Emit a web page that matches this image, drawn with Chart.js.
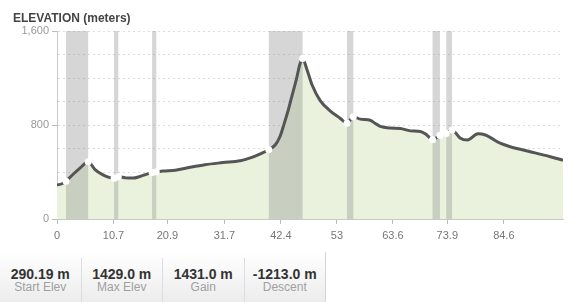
<!DOCTYPE html>
<html>
<head>
<meta charset="utf-8">
<script src="https://cdn.jsdelivr.net/npm/chart.js@4/dist/chart.umd.min.js"></script>
<style>
  body { margin: 0; background: #fff; font-family: "Liberation Sans", Arial, sans-serif; }
  #wrap { position: relative; width: 573px; height: 302px; overflow: hidden; }
  #title { position: absolute; left: 13px; top: 11px; font-size: 12px; font-weight: bold; color: #444; }
  #box { position: absolute; left: 0; top: 0; width: 573px; height: 250px; }
  #stats { position: absolute; left: 0; top: 252px; width: 325px; height: 50px;
    background: linear-gradient(#fff, #ececec); border-right: 1px solid #d4d4d4; display: flex; }
  .cell { width: 81px; text-align: center; border-right: 1px solid #ddd; margin-top: 6px; }
  .cell:last-child { border-right: none; }
  .val { font-size: 14px; font-weight: bold; color: #333; margin-top: 8px; }
  .lbl { font-size: 12px; color: #a0a0a0; margin-top: -2px; }
</style>
</head>
<body>
<div id="wrap">
  <div id="box"><canvas id="elev_chart"></canvas></div>
  <div id="title">ELEVATION (meters)</div>
  <div id="stats"></div>
</div>
<script>
// distance along route (km) and elevation (m)
const distance = [0, 0.95, 1.7, 2.8, 4.4, 5.9, 7.2, 8.7, 10.0, 10.8, 11.6, 13.0, 14.4, 15.7, 17.0, 18.0, 18.8,
  20.1, 22.4, 25.2, 28.0, 31.4, 34.7, 36.6, 38.5, 40.1, 41.3, 42.2, 43.0, 43.8, 44.5, 45.3, 46.0, 46.5,
  47.3, 48.3, 49.8, 51.7, 53.6, 54.9, 56.1, 57.4, 59.3, 60.2, 61.2, 63.1, 65.0, 66.9, 68.8, 69.9, 71.1,
  72.5, 73.7, 74.8, 76.3, 77.7, 79.7, 81.1, 83.9, 85.8, 89.6, 93.4, 95.8];
const elevation = [290, 300, 322, 370, 435, 488, 420, 375, 352, 345, 360, 350, 348, 362, 382, 395, 400,
  408, 415, 440, 462, 480, 496, 520, 555, 590, 630, 700, 810, 930, 1050, 1185, 1320, 1365,
  1275, 1140, 1010, 920, 858, 815, 870, 850, 840, 815, 788, 774, 770, 750, 745, 720, 675,
  712, 728, 757, 690, 672, 725, 715, 645, 615, 573, 530, 500];

// shaded sections [start km, end km]
const bandStart = [1.7, 10.8, 18.0, 40.1, 54.9, 71.1, 73.7];
const bandEnd = [5.9, 11.6, 18.8, 46.5, 56.1, 72.5, 74.8];

const xTicks = [0, 10.7, 20.9, 31.7, 42.4, 53, 63.6, 73.9, 84.6];
const yMax = 1600;

const statValues = ["290.19 m", "1429.0 m", "1431.0 m", "-1213.0 m"];
const statLabels = ["Start Elev", "Max Elev", "Gain", "Descent"];

document.getElementById("stats").innerHTML = statValues.map((v, i) =>
  '<div class="cell"><div class="val">' + v + '</div><div class="lbl">' + statLabels[i] + '</div></div>'
).join("");

const points = distance.map((d, i) => ({ x: d, y: elevation[i] }));
const edges = bandStart.concat(bandEnd);

const bands = {
  id: "bands",
  afterDatasetDraw(chart, args) {
    if (args.index !== 1) return;
    const { ctx, chartArea, scales } = chart;
    ctx.save();
    ctx.fillStyle = "rgba(140,140,140,0.36)";
    bandStart.forEach((s, i) => {
      const x1 = scales.x.getPixelForValue(s);
      const x2 = scales.x.getPixelForValue(bandEnd[i]);
      ctx.fillRect(x1, chartArea.top, x2 - x1, chartArea.bottom - chartArea.top);
    });
    ctx.restore();
  }
};

const ctx = document.getElementById("elev_chart").getContext("2d");
const chart = new Chart(ctx, {
  type: "line",
  data: {
    datasets: [
      {
        data: points,
        borderColor: "#555",
        borderWidth: 3,
        fill: false,
        cubicInterpolationMode: "monotone",
        pointRadius: (c) => edges.includes(distance[c.dataIndex]) ? 3.5 : 0,
        pointBackgroundColor: "#fff",
        pointBorderWidth: 0,
        order: 0
      },
      {
        data: points,
        borderWidth: 0,
        borderColor: "transparent",
        backgroundColor: "#eaf2dd",
        fill: "origin",
        cubicInterpolationMode: "monotone",
        pointRadius: 0,
        order: 1
      }
    ]
  },
  options: {
    responsive: true,
    maintainAspectRatio: false,
    animation: false,
    layout: { padding: { top: 31, right: 10, left: 0, bottom: 0 } },
    plugins: { legend: { display: false }, tooltip: { enabled: false } },
    scales: {
      x: {
        type: "linear",
        min: 0,
        max: 95.8,
        afterBuildTicks: (scale) => { scale.ticks = xTicks.map((v) => ({ value: v })); },
        afterFit: (scale) => { scale.height = 31; },
        ticks: {
          color: "#777",
          font: { size: 11, family: "Liberation Sans" },
          padding: 5,
          maxRotation: 0,
          autoSkip: false,
          callback: (value) => String(value)
        },
        grid: { drawOnChartArea: false, tickLength: 5, tickColor: "#bbb" },
        border: { color: "#c8c8c8" }
      },
      y: {
        min: 0,
        max: yMax,
        afterFit: (scale) => { scale.width = 57; },
        ticks: {
          stepSize: 200,
          color: "#999",
          font: { size: 11, family: "Liberation Sans" },
          padding: 3,
          callback: (value) => value % 800 === 0 ? value.toLocaleString("en-US") : ""
        },
        grid: {
          color: (c) => c.tick && c.tick.value === 0 ? "transparent" : "#dcdcdc",
          tickLength: 5,
          tickColor: (c) => c.tick && c.tick.value % 800 === 0 ? "#bbb" : "transparent"
        },
        border: { color: "#c8c8c8", dash: [2, 3] }
      }
    }
  },
  plugins: [bands]
});
</script>
</body>
</html>
